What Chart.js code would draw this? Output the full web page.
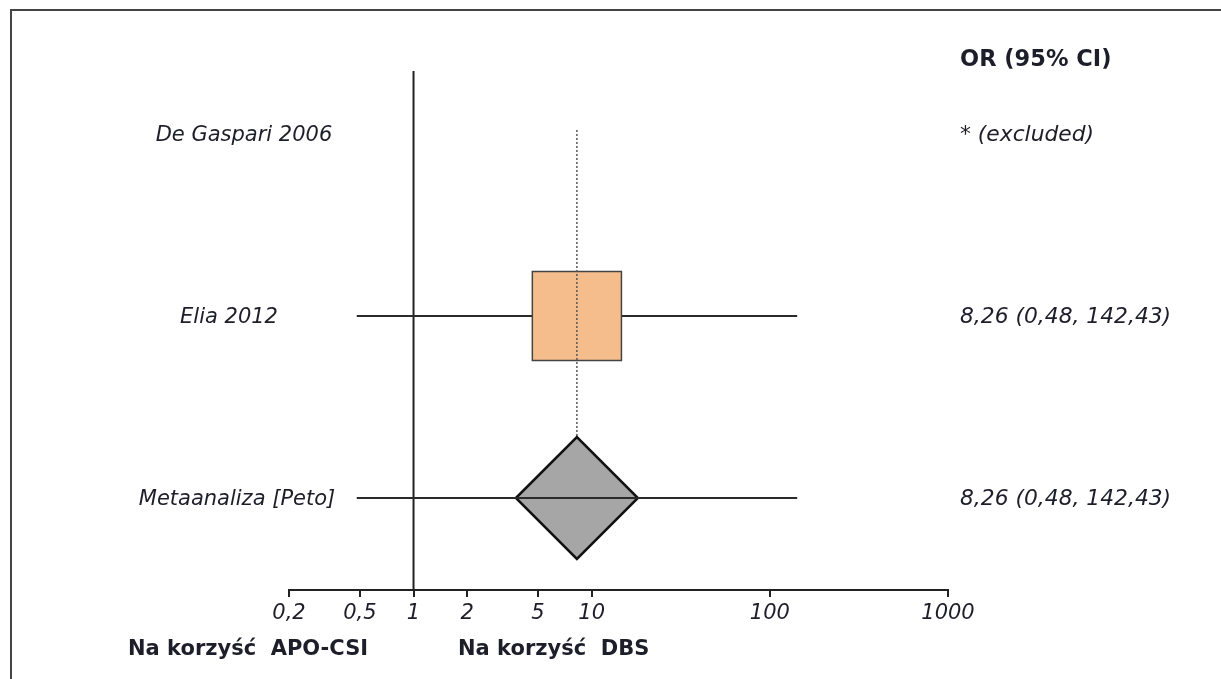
<!DOCTYPE html>
<html>
<head>
<meta charset="utf-8">
<script src="https://cdn.jsdelivr.net/npm/chart.js@4.4.1/dist/chart.umd.min.js"></script>
<style>
  html, body { margin: 0; padding: 0; background: #fff; }
  #wrap { position: relative; width: 1221px; height: 679px; }
  #frame { position: absolute; left: 10px; top: 9px; right: 0; bottom: 0; border-top: 2px solid #444; border-left: 2px solid #444; }
</style>
</head>
<body>
<div id="wrap">
  <div id="frame"></div>
  <canvas id="forest"></canvas>
</div>
<script>
// study rows, top to bottom
const studies = ['De Gaspari 2006', 'Elia 2012', 'Metaanaliza [Peto]'];
const rowY = [3, 2, 1];
const orValues = [null, 8.26, 8.26];
const ciLow = [null, 0.48, 0.48];
const ciHigh = [null, 142.43, 142.43];
const orLabels = ['* (excluded)', '8,26 (0,48, 142,43)', '8,26 (0,48, 142,43)'];
const pooledOR = 8.26;

const xTicks = [0.2, 0.5, 1, 2, 5, 10, 100, 1000];
const xTickLabels = ['0,2', '0,5', '1', '2', '5', '10', '100', '1000'];

const headerText = 'OR (95% CI)';
const favourLeft = 'Na korzyść  APO-CSI';
const favourRight = 'Na korzyść  DBS';

const yMin = 0.4945, yMax = 3.346;
const FONT = '"DejaVu Sans", Verdana, sans-serif';
const INK = '#1e1e2a';

// hand placed label centres for the study names (left column)
const labelCenters = [244, 229, 237];

const textPlugin = {
    id: 'forestText',
    afterDraw(chart) {
        const ctx = chart.ctx;
        const y = chart.scales.y;
        ctx.save();
        ctx.fillStyle = INK;
        ctx.textBaseline = 'middle';
        ctx.font = 'italic 21px ' + FONT;
        ctx.textAlign = 'center';
        studies.forEach((s, i) => ctx.fillText(s, labelCenters[i], y.getPixelForValue(rowY[i]) + 2));
        ctx.textAlign = 'left';
        ctx.font = 'italic 21.8px ' + FONT;
        orLabels.forEach((s, i) => ctx.fillText(s, 960, y.getPixelForValue(rowY[i]) + 1));
        ctx.font = 'bold 22.5px ' + FONT;
        ctx.fillText(headerText, 960, y.getPixelForValue(3.407));
        ctx.font = 'bold 21px ' + FONT;
        ctx.textBaseline = 'alphabetic';
        ctx.fillText(favourLeft, 128, 655);
        ctx.fillText(favourRight, 458, 655);
        ctx.restore();
    }
};

// one dataset per mark, order controls what sits on top
const datasets = [];
// reference line at OR = 1
datasets.push({
    data: [{x: 1, y: yMin}, {x: 1, y: yMax}],
    showLine: true, pointRadius: 0, borderColor: '#222', borderWidth: 2, order: 7
});
// confidence interval lines
studies.forEach((s, i) => {
    if (orValues[i] === null) return;
    datasets.push({
        data: [{x: ciLow[i], y: rowY[i]}, {x: ciHigh[i], y: rowY[i]}],
        showLine: true, pointRadius: 0, borderColor: '#2a2a2a', borderWidth: 2,
        order: i === studies.length - 1 ? 1 : 6
    });
});
// study box (Elia)
datasets.push({
    data: [{x: orValues[1], y: rowY[1]}],
    pointStyle: 'rect', pointRadius: 63,
    backgroundColor: 'rgb(246,189,140)', borderColor: '#444', borderWidth: 1.5, order: 5
});
// dotted line at the pooled estimate
datasets.push({
    data: [{x: pooledOR, y: 3.022}, {x: pooledOR, y: rowY[2]}],
    showLine: true, pointRadius: 0, borderColor: '#555', borderWidth: 1.5, borderDash: [2, 2], order: 4
});
// pooled diamond
datasets.push({
    data: [{x: orValues[2], y: rowY[2]}],
    pointStyle: 'rectRot', pointRadius: 61,
    backgroundColor: 'rgb(166,166,166)', borderColor: '#111', borderWidth: 2.5, order: 2
});

new Chart(document.getElementById('forest').getContext('2d'), {
    type: 'scatter',
    data: { datasets: datasets },
    options: {
        responsive: true,
        maintainAspectRatio: false,
        animation: false,
        events: [],
        layout: { padding: { left: 289, right: 273, top: 71, bottom: 0 } },
        plugins: { legend: { display: false }, tooltip: { enabled: false } },
        scales: {
            x: {
                type: 'logarithmic',
                min: 0.2,
                max: 1000,
                afterBuildTicks: (scale) => { scale.ticks = xTicks.map(v => ({ value: v })); },
                afterFit: (scale) => { scale.height = 89; },
                border: { display: true, color: '#222', width: 2 },
                grid: { drawOnChartArea: false, drawTicks: true, tickLength: 7, color: '#222', lineWidth: 2 },
                ticks: {
                    autoSkip: false,
                    maxRotation: 0,
                    padding: 4,
                    color: INK,
                    font: { family: FONT, size: 21, style: 'italic' },
                    callback: (value, index) => xTickLabels[index]
                }
            },
            y: {
                display: false,
                min: yMin,
                max: yMax
            }
        }
    },
    plugins: [textPlugin]
});
</script>
</body>
</html>
